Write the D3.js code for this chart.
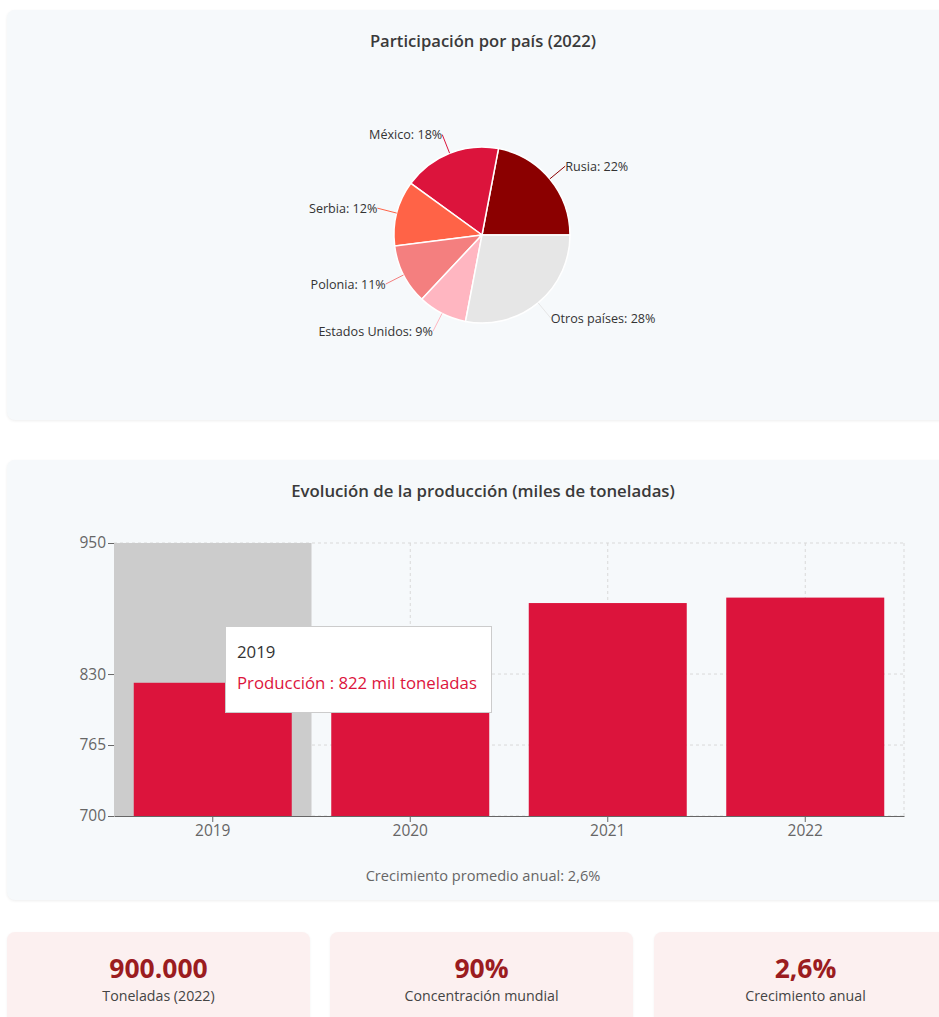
<!DOCTYPE html>
<html lang="es">
<head>
<meta charset="utf-8">
<script src="https://cdn.jsdelivr.net/npm/d3@7"></script>
<style>
  html, body { margin: 0; padding: 0; background: #ffffff; overflow: hidden; }
  body { width: 939px; height: 1017px; position: relative; font-family: "Open Sans", "Noto Sans", sans-serif; }
  .panel { position: absolute; left: 7px; width: 950px; background: #f6f9fb; border-radius: 8px;
           box-shadow: 0 1px 3px rgba(0,0,0,0.07); }
  .panel svg { display: block; }
  .card { position: absolute; top: 932px; width: 303px; height: 110px; background: #fcf0f0; border-radius: 8px;
          box-shadow: 0 1px 3px rgba(0,0,0,0.05); text-align: center; }
  .card .val { position: absolute; left: 0; right: 0; top: 21px; font-size: 26.5px; font-weight: 700; color: #9b1c1f; line-height: 30px; }
  .card .lab { position: absolute; left: 0; right: 0; top: 55px; font-size: 14.2px; color: #444; line-height: 18px; }
  .tooltip { position: absolute; background: #fff; border: 1px solid #cccccc; box-sizing: border-box; }
  .tooltip .t1 { position: absolute; left: 11px; top: 14px; font-size: 16.8px; color: #333; line-height: 22px; white-space: nowrap; }
  .tooltip .t2 { position: absolute; left: 11px; top: 45px; font-size: 16.8px; color: #dc143c; line-height: 22px; white-space: nowrap; }
</style>
</head>
<body>
<div id="pie-panel" class="panel" style="top:10px;height:410px;"></div>
<div id="bar-panel" class="panel" style="top:460px;height:440px;"></div>
<div id="cards"></div>
<script>
// Participación por país (2022)
const countries = ["Rusia", "México", "Serbia", "Polonia", "Estados Unidos", "Otros países"];
const shares = [22, 18, 12, 11, 9, 28];
const sliceColors = ["#8b0000", "#dc143c", "#ff6347", "#f47f7f", "#ffb6c1", "#e6e6e6"];

// Evolución de la producción (miles de toneladas)
const years = ["2019", "2020", "2021", "2022"];
const production = [822, 858, 895, 900];
const yTicks = [700, 765, 830, 950];

// Indicadores
const cardValues = ["900.000", "90%", "2,6%"];
const cardLabels = ["Toneladas (2022)", "Concentración mundial", "Crecimiento anual"];

const W = 950;

/* ---------- Pie ---------- */
{
  const H = 410;
  const svg = d3.select("#pie-panel").append("svg").attr("width", W).attr("height", H);
  svg.append("text").attr("x", W / 2 + 1).attr("y", 30)
    .attr("text-anchor", "middle").attr("dominant-baseline", "central")
    .attr("font-size", 16.6).attr("font-weight", 600).attr("fill", "#3a3a3a")
    .text("Participación por país (2022)");

  const cx = 475, cy = 225, R = 88;
  const data = countries.map((c, i) => ({ name: c, value: shares[i], color: sliceColors[i] }));
  // angles start at 3 o'clock and run counter-clockwise
  const pie = d3.pie().sort(null).value(d => d.value)
    .startAngle(Math.PI / 2).endAngle(Math.PI / 2 - 2 * Math.PI);
  const arcs = pie(data);
  const arc = d3.arc().innerRadius(0).outerRadius(R);
  const g = svg.append("g").attr("transform", `translate(${cx},${cy})`);
  g.selectAll("path.slice").data(arcs).join("path")
    .attr("class", "slice")
    .attr("d", arc)
    .attr("fill", d => d.data.color)
    .attr("stroke", "#fff").attr("stroke-width", 1.5);

  const pt = (a, r) => [r * Math.sin(a), -r * Math.cos(a)];
  arcs.forEach(d => {
    const m = (d.startAngle + d.endAngle) / 2;
    const [x1, y1] = pt(m, R);
    const [x2, y2] = pt(m, R + 20);
    g.append("line").attr("x1", x1).attr("y1", y1).attr("x2", x2).attr("y2", y2)
      .attr("stroke", d.data.color).attr("stroke-width", 1);
    g.append("text").attr("x", x2).attr("y", y2)
      .attr("text-anchor", x2 > 0 ? "start" : "end")
      .attr("dominant-baseline", "central")
      .attr("font-size", 12.6).attr("fill", "#333")
      .text(`${d.data.name}: ${d.data.value}%`);
  });
}

/* ---------- Bars ---------- */
{
  const H = 440;
  const svg = d3.select("#bar-panel").append("svg").attr("width", W).attr("height", H);
  svg.append("text").attr("x", W / 2 + 1).attr("y", 30)
    .attr("text-anchor", "middle").attr("dominant-baseline", "central")
    .attr("font-size", 16.8).attr("font-weight", 600).attr("fill", "#3a3a3a")
    .text("Evolución de la producción (miles de toneladas)");

  const left = 107, right = 897, top = 83, bottom = 356;
  const x = d3.scaleBand().domain(years).range([left, right]).paddingInner(0.2).paddingOuter(0.1);
  const y = d3.scaleLinear().domain([700, 950]).range([bottom, top]);
  const step = x.step();
  const bandStart = yr => x(yr) - x.paddingOuter() * step;

  // grid
  const grid = svg.append("g").attr("stroke", "#d9d9d9").attr("stroke-dasharray", "3 3").attr("fill", "none");
  yTicks.forEach(t => grid.append("line").attr("x1", left).attr("x2", right).attr("y1", y(t)).attr("y2", y(t)));
  years.forEach(yr => {
    const cxp = x(yr) + x.bandwidth() / 2;
    grid.append("line").attr("x1", cxp).attr("x2", cxp).attr("y1", top).attr("y2", bottom);
  });
  grid.append("line").attr("x1", right).attr("x2", right).attr("y1", top).attr("y2", bottom);

  // hover band behind the first bar
  svg.append("rect")
    .attr("x", bandStart(years[0])).attr("y", top)
    .attr("width", step).attr("height", bottom - top)
    .attr("fill", "#cccccc");

  svg.selectAll("rect.bar").data(years).join("rect")
    .attr("class", "bar")
    .attr("x", d => x(d)).attr("width", x.bandwidth())
    .attr("y", (d, i) => y(production[i]))
    .attr("height", (d, i) => bottom - y(production[i]))
    .attr("fill", "#dc143c");

  // axes
  const yAxis = d3.axisLeft(y).tickValues(yTicks).tickSize(6).tickPadding(2);
  const gy = svg.append("g").attr("transform", `translate(${left},0)`).call(yAxis);
  gy.select(".domain").remove();
  gy.selectAll(".tick line").attr("stroke", "#666");
  gy.selectAll(".tick text").attr("font-size", 15.5).attr("fill", "#666").attr("font-family", "Open Sans, sans-serif");

  const xAxis = d3.axisBottom(x).tickSize(6).tickPadding(3).tickSizeOuter(0);
  const gx = svg.append("g").attr("transform", `translate(0,${bottom})`).call(xAxis);
  gx.select(".domain").attr("stroke", "#666");
  gx.selectAll(".tick line").attr("stroke", "#666");
  gx.selectAll(".tick text").attr("font-size", 15.5).attr("fill", "#666").attr("font-family", "Open Sans, sans-serif");

  svg.append("text").attr("x", W / 2 + 1).attr("y", 415)
    .attr("text-anchor", "middle").attr("dominant-baseline", "central")
    .attr("font-size", 14.6).attr("fill", "#666")
    .text("Crecimiento promedio anual: 2,6%");

  // tooltip for the highlighted year
  const tip = d3.select("body").append("div").attr("class", "tooltip")
    .style("left", (7 + bandStart(years[0]) + 111) + "px")
    .style("top", (460 + y(production[0]) - 57) + "px")
    .style("width", "267px").style("height", "87px");
  tip.append("div").attr("class", "t1").text(years[0]);
  tip.append("div").attr("class", "t2").text(`Producción : ${production[0]} mil toneladas`);
}

/* ---------- Cards ---------- */
{
  const lefts = [7, 330, 654];
  const cards = d3.select("#cards").selectAll("div.card").data(cardValues).join("div")
    .attr("class", "card")
    .style("left", (d, i) => lefts[i] + "px");
  cards.append("div").attr("class", "val").text(d => d);
  cards.append("div").attr("class", "lab").text((d, i) => cardLabels[i]);
}
</script>
</body>
</html>
